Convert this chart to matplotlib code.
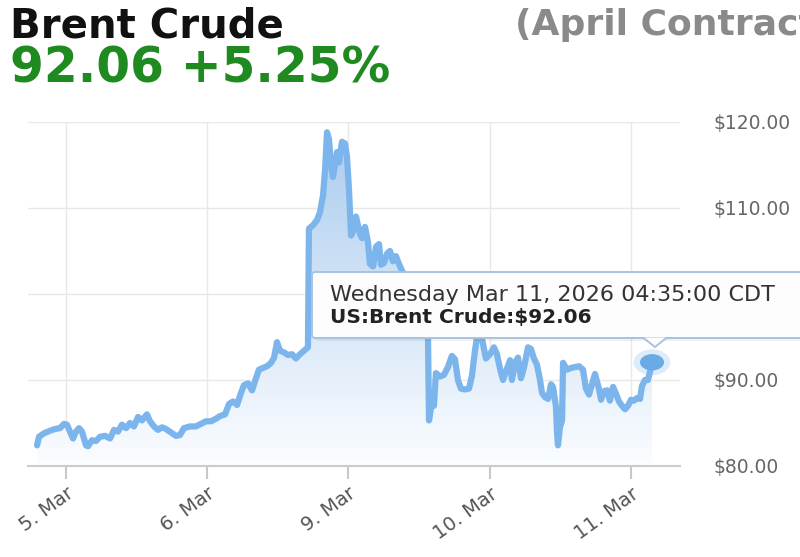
import numpy as np
import matplotlib
matplotlib.use('Agg')
import matplotlib.pyplot as plt
from matplotlib.colors import LinearSegmentedColormap
from matplotlib.patches import FancyBboxPatch, Ellipse, Polygon

# trading-session position in days (0 = 5 Mar, 1 = 6 Mar, 2 = 9 Mar, ...)
day = [-0.205, -0.191, -0.156, -0.113, -0.078, -0.042, -0.014, 0.007, 0.028, 0.050,
       0.071, 0.092, 0.113, 0.142, 0.156, 0.184, 0.212, 0.241, 0.276, 0.312,
       0.340, 0.368, 0.396, 0.425, 0.453, 0.481, 0.510, 0.538, 0.573, 0.595,
       0.623, 0.651, 0.680, 0.708, 0.743, 0.779, 0.807, 0.835, 0.878, 0.920,
       0.956, 0.991, 1.027, 1.062, 1.090, 1.126, 1.154, 1.182, 1.211, 1.239,
       1.260, 1.289, 1.317, 1.345, 1.366, 1.395, 1.423, 1.452, 1.473, 1.494,
       1.515, 1.544, 1.572, 1.600, 1.628, 1.657, 1.685, 1.713, 1.720, 1.749,
       1.777, 1.798, 1.820, 1.834, 1.848, 1.862, 1.876, 1.890, 1.904, 1.919,
       1.933, 1.954, 1.975, 1.989, 2.004, 2.018, 2.039, 2.053, 2.067, 2.081,
       2.096, 2.117, 2.138, 2.152, 2.174, 2.195, 2.216, 2.230, 2.251, 2.273,
       2.294, 2.315, 2.336, 2.357, 2.379, 2.414, 2.457, 2.499, 2.542, 2.563,
       2.570, 2.591, 2.605, 2.619, 2.648, 2.676, 2.704, 2.732, 2.754, 2.775,
       2.796, 2.825, 2.853, 2.874, 2.896, 2.910, 2.945, 2.973, 3.002, 3.030,
       3.051, 3.073, 3.094, 3.115, 3.144, 3.157, 3.179, 3.200, 3.221, 3.243,
       3.271, 3.292, 3.313, 3.334, 3.356, 3.370, 3.391, 3.413, 3.434, 3.448,
       3.469, 3.476, 3.483, 3.497, 3.512, 3.519, 3.547, 3.575, 3.604, 3.632,
       3.660, 3.681, 3.703, 3.724, 3.745, 3.773, 3.788, 3.809, 3.830, 3.851,
       3.873, 3.894, 3.915, 3.936, 3.958, 3.979, 4.000, 4.021, 4.043, 4.064,
       4.078, 4.099, 4.120, 4.135, 4.149]
price = [82.4, 83.4, 83.8, 84.1, 84.3, 84.4, 84.9, 84.8, 84.0, 83.2,
         84.0, 84.4, 84.0, 82.4, 82.3, 83.0, 82.9, 83.4, 83.5, 83.2,
         84.2, 84.0, 84.8, 84.4, 85.0, 84.6, 85.7, 85.3, 86.0, 85.2,
         84.6, 84.2, 84.5, 84.3, 83.9, 83.5, 83.6, 84.4, 84.6, 84.6,
         84.9, 85.2, 85.2, 85.5, 85.8, 86.0, 87.2, 87.5, 87.1, 88.5,
         89.4, 89.6, 88.8, 90.2, 91.2, 91.4, 91.6, 92.0, 92.6, 94.4,
         93.4, 93.2, 92.9, 93.0, 92.5, 93.0, 93.4, 93.8, 107.6, 108.0,
         108.6, 109.5, 111.5, 114.4, 118.8, 118.0, 115.0, 113.6, 115.0, 116.5,
         115.3, 117.7, 117.5, 116.0, 112.0, 106.8, 107.5, 109.0, 108.0, 107.0,
         106.5, 107.8, 106.0, 103.5, 103.2, 105.5, 105.8, 103.4, 103.6, 104.7,
         105.0, 103.8, 104.4, 103.5, 102.7, 101.5, 100.2, 98.8, 96.5, 95.0,
         85.3, 87.5, 87.0, 90.8, 90.4, 90.6, 91.5, 92.8, 92.4, 90.0,
         89.0, 88.9, 89.0, 90.5, 93.5, 95.0, 94.8, 92.5, 93.0, 93.8,
         93.0, 91.3, 90.0, 91.0, 92.3, 90.0, 92.0, 92.6, 90.2, 91.5,
         93.8, 93.6, 92.5, 91.8, 90.0, 88.5, 88.0, 87.8, 89.5, 89.2,
         86.9, 84.0, 82.4, 84.5, 85.3, 92.0, 91.2, 91.4, 91.5, 91.6,
         91.2, 89.0, 88.3, 89.5, 90.7, 89.0, 87.7, 88.7, 88.8, 87.6,
         89.2, 88.4, 87.5, 87.0, 86.6, 87.0, 87.7, 87.6, 87.9, 87.8,
         89.3, 90.0, 90.0, 91.0, 92.06]

tick_pos = [0, 1, 2, 3, 4]
tick_labels = ['5. Mar', '6. Mar', '9. Mar', '10. Mar', '11. Mar']
y_ticks = [80, 90, 100, 110, 120]
# $100.00 sits behind the tooltip in the original, so it is left blank
y_labels = ['$80.00', '$90.00', '', '$110.00', '$120.00']

line_col = '#7cb5ec'
plt.rcParams['font.family'] = ['DejaVu Sans']

fig = plt.figure(figsize=(8, 5.57), dpi=100)
ax = fig.add_axes([0.035, 0.1634, 0.815, 0.6176])
x_min, x_max = -0.269, 4.347
ax.set_xlim(x_min, x_max)
ax.set_ylim(80, 120)

# gradient fill under the line
grad = np.linspace(0, 1, 256).reshape(-1, 1)
cmap = LinearSegmentedColormap.from_list('fade', ['#fbfdff', '#a9cbee'])
im = ax.imshow(grad, extent=[x_min, x_max, 80, 120], origin='lower', cmap=cmap,
               aspect='auto', zorder=1)
area = ax.fill_between(day, price, 80, color='none', lw=0)
im.set_clip_path(area.get_paths()[0], transform=ax.transData)

ax.plot(day, price, color=line_col, lw=4.5, solid_joinstyle='round',
        solid_capstyle='round', zorder=3)

# highlighted last point
ax.add_patch(Ellipse((day[-1], price[-1]), 0.26, 3.0, color=line_col, alpha=0.25,
                     lw=0, zorder=4))
ax.add_patch(Ellipse((day[-1], price[-1]), 0.17, 1.9, color='#6aaae6', lw=0, zorder=5))

ax.set_xticks(tick_pos)
ax.set_xticklabels(tick_labels, rotation=36, ha='right', va='top',
                   rotation_mode='anchor', fontsize=14, color='#555555')
ax.set_yticks(y_ticks)
ax.set_yticklabels(y_labels, fontsize=13.5, color='#666666')
ax.yaxis.tick_right()
ax.tick_params(axis='y', length=0, pad=24)
ax.tick_params(axis='x', length=9, width=1.5, color='#c8c8c8', pad=4)
ax.grid(True, color='#e8e8e8', lw=1)
ax.set_axisbelow(True)
for s in ['top', 'right', 'left']:
    ax.spines[s].set_visible(False)
ax.spines['bottom'].set_color('#cccccc')
ax.spines['bottom'].set_linewidth(1.5)

# header
fig.text(0.0125, 0.932, 'Brent Crude', fontsize=29, fontweight='bold', color='#111111',
         va='baseline')
fig.text(0.0125, 0.851, '92.06 +5.25%', fontsize=35, fontweight='bold', color='#1f8a1f',
         va='baseline')
fig.text(0.644, 0.937, '(April Contract)', fontsize=26, fontweight='bold',
         color='#8a8a8a', va='baseline')

# tooltip on an overlay axes
W, H = 800.0, 557.0
tip = fig.add_axes([0, 0, 1, 1], zorder=10)
tip.set_xlim(0, W)
tip.set_ylim(H, 0)
tip.axis('off')
tip.patch.set_alpha(0)
tip.add_patch(FancyBboxPatch((315, 275), 520, 66, boxstyle='round,pad=0,rounding_size=3',
                             facecolor='#000000', alpha=0.06, lw=0))
tip.add_patch(FancyBboxPatch((312, 272), 520, 66, boxstyle='round,pad=0,rounding_size=3',
                             facecolor='#fdfdfd', edgecolor='#a7c3e0', lw=1.4))
tip.add_patch(Polygon([(643, 337.5), (655, 347), (667, 337.5)], closed=False,
                      facecolor='#fdfdfd', edgecolor='#a7c3e0', lw=1.4))
tip.text(330, 295, 'Wednesday Mar 11, 2026 04:35:00 CDT', fontsize=16,
         color='#333333', va='center')
tip.text(330, 318, 'US:Brent Crude:$%.2f' % price[-1], fontsize=14.5,
         fontweight='bold', color='#222222', va='center')

fig.savefig('out.png', dpi=100)
